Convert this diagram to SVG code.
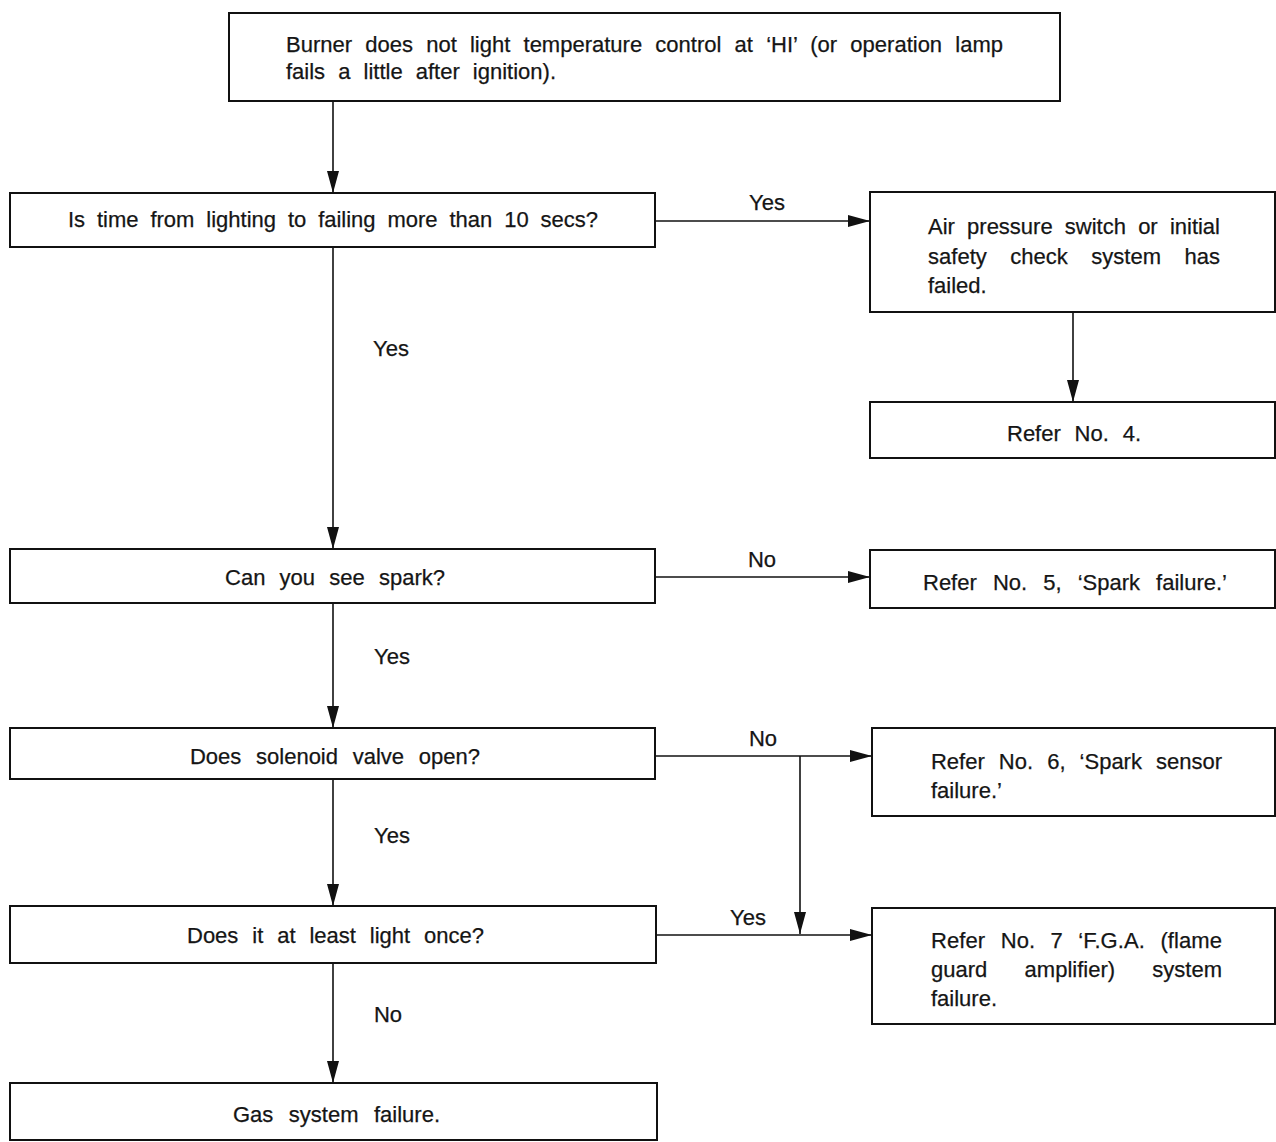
<svg xmlns="http://www.w3.org/2000/svg" width="1276" height="1142" viewBox="0 0 1276 1142">
<style>
.box{fill:#fff;stroke:#111;stroke-width:2}
.t{font-family:"Liberation Sans",Arial,sans-serif;font-size:22px;fill:#151515;stroke:#151515;stroke-width:0.25}
.c{text-anchor:middle}
.ln{stroke:#111;stroke-width:1.6;fill:none}
</style>
<defs>
<marker id="ah" markerUnits="userSpaceOnUse" markerWidth="24" markerHeight="14" refX="22" refY="7" orient="auto">
<path d="M0,1 L22,7 L0,13 Z" fill="#111"/>
</marker>
</defs>
<rect width="1276" height="1142" fill="#fff"/>
<g id="connectors">
<line class="ln" x1="333" y1="101" x2="333" y2="193" marker-end="url(#ah)"/>
<line class="ln" x1="333" y1="247" x2="333" y2="549" marker-end="url(#ah)"/>
<line class="ln" x1="333" y1="603" x2="333" y2="728" marker-end="url(#ah)"/>
<line class="ln" x1="333" y1="779" x2="333" y2="906" marker-end="url(#ah)"/>
<line class="ln" x1="333" y1="963" x2="333" y2="1083" marker-end="url(#ah)"/>
<line class="ln" x1="655" y1="221" x2="870" y2="221" marker-end="url(#ah)"/>
<line class="ln" x1="1073" y1="312" x2="1073" y2="402" marker-end="url(#ah)"/>
<line class="ln" x1="655" y1="577" x2="870" y2="577" marker-end="url(#ah)"/>
<line class="ln" x1="655" y1="756" x2="872" y2="756" marker-end="url(#ah)"/>
<line class="ln" x1="800" y1="756" x2="800" y2="934" marker-end="url(#ah)"/>
<line class="ln" x1="656" y1="935" x2="872" y2="935" marker-end="url(#ah)"/>
<text class="t c" x="767" y="210">Yes</text>
<text class="t c" x="391" y="356">Yes</text>
<text class="t c" x="762" y="567">No</text>
<text class="t c" x="392" y="664">Yes</text>
<text class="t c" x="763" y="746">No</text>
<text class="t c" x="392" y="843">Yes</text>
<text class="t c" x="748" y="925">Yes</text>
<text class="t c" x="388" y="1022">No</text>
</g>
<g id="n1">
<rect class="box" x="229" y="13" width="831" height="88"/>
<text class="t" x="286" y="52" word-spacing="7.1" textLength="717" lengthAdjust="spacing">Burner does not light temperature control at ‘HI’ (or operation lamp</text>
<text class="t" x="286" y="79" word-spacing="7" textLength="270" lengthAdjust="spacing">fails a little after ignition).</text>
</g>
<g id="n2">
<rect class="box" x="10" y="193" width="645" height="54"/>
<text class="t" x="68" y="227" word-spacing="5.8" textLength="530" lengthAdjust="spacing">Is time from lighting to failing more than 10 secs?</text>
</g>
<g id="n3">
<rect class="box" x="870" y="192" width="405" height="120"/>
<text class="t" x="928" y="234" word-spacing="6.1" textLength="292" lengthAdjust="spacing">Air pressure switch or initial</text>
<text class="t" x="928" y="264" word-spacing="17.4" textLength="292" lengthAdjust="spacing">safety check system has</text>
<text class="t" x="928" y="293">failed.</text>
</g>
<g id="n4">
<rect class="box" x="870" y="402" width="405" height="56"/>
<text class="t" x="1007" y="441" word-spacing="7.7" textLength="134" lengthAdjust="spacing">Refer No. 4.</text>
</g>
<g id="n5">
<rect class="box" x="10" y="549" width="645" height="54"/>
<text class="t" x="225" y="585" word-spacing="8.1" textLength="220" lengthAdjust="spacing">Can you see spark?</text>
</g>
<g id="n6">
<rect class="box" x="870" y="550" width="405" height="58"/>
<text class="t" x="923" y="590" word-spacing="10" textLength="304" lengthAdjust="spacing">Refer No. 5, ‘Spark failure.’</text>
</g>
<g id="n7">
<rect class="box" x="10" y="728" width="645" height="51"/>
<text class="t" x="190" y="764" word-spacing="8.7" textLength="290" lengthAdjust="spacing">Does solenoid valve open?</text>
</g>
<g id="n8">
<rect class="box" x="872" y="728" width="403" height="88"/>
<text class="t" x="931" y="769" word-spacing="8" textLength="291" lengthAdjust="spacing">Refer No. 6, ‘Spark sensor</text>
<text class="t" x="931" y="798">failure.’</text>
</g>
<g id="n9">
<rect class="box" x="10" y="906" width="646" height="57"/>
<text class="t" x="187" y="943" word-spacing="7.8" textLength="297" lengthAdjust="spacing">Does it at least light once?</text>
</g>
<g id="n10">
<rect class="box" x="872" y="908" width="403" height="116"/>
<text class="t" x="931" y="948" word-spacing="9.2" textLength="291" lengthAdjust="spacing">Refer No. 7 ‘F.G.A. (flame</text>
<text class="t" x="931" y="977" word-spacing="31.2" textLength="291" lengthAdjust="spacing">guard amplifier) system</text>
<text class="t" x="931" y="1006">failure.</text>
</g>
<g id="n11">
<rect class="box" x="10" y="1083" width="647" height="57"/>
<text class="t" x="233" y="1122" word-spacing="9.4" textLength="207" lengthAdjust="spacing">Gas system failure.</text>
</g>
</svg>
